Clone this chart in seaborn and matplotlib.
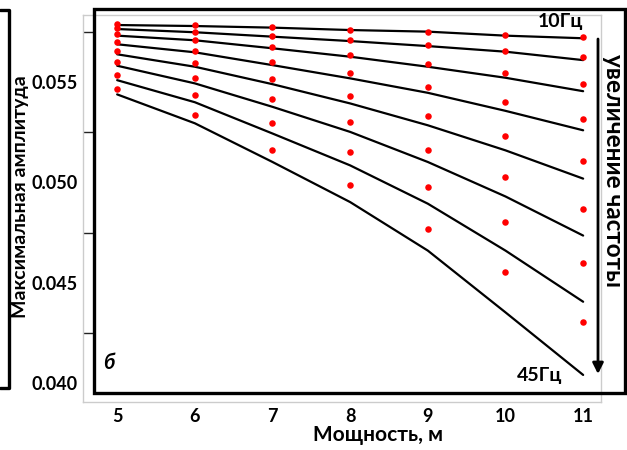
import matplotlib
matplotlib.use("Agg")
import matplotlib.pyplot as plt
import numpy as np
import pandas as pd
import seaborn as sns
from matplotlib.patches import Rectangle
from matplotlib.lines import Line2D
from matplotlib.ticker import FormatStrFormatter, MultipleLocator

# ---------------- data ----------------
thickness = [5, 6, 7, 8, 9, 10, 11]
freqs = ["10Гц", "15Гц", "20Гц", "25Гц", "30Гц", "35Гц", "40Гц", "45Гц"]

# model curves (black lines)
line_10 = [0.05785, 0.05780, 0.05772, 0.05760, 0.05752, 0.05732, 0.05719]
line_15 = [0.05765, 0.05749, 0.05727, 0.05705, 0.05680, 0.05652, 0.05610]
line_20 = [0.05732, 0.05709, 0.05669, 0.05627, 0.05577, 0.05522, 0.05455]
line_25 = [0.05689, 0.05649, 0.05585, 0.05519, 0.05447, 0.05357, 0.05260]
line_30 = [0.05639, 0.05577, 0.05490, 0.05394, 0.05285, 0.05160, 0.05019]
line_35 = [0.05582, 0.05494, 0.05377, 0.05252, 0.05102, 0.04930, 0.04735]
line_40 = [0.05510, 0.05400, 0.05244, 0.05085, 0.04894, 0.04660, 0.04405]
line_45 = [0.05439, 0.05295, 0.05102, 0.04902, 0.04660, 0.04352, 0.04040]

# measured points (red dots)
pts_10 = [0.05789, 0.05785, 0.05774, 0.05762, 0.05752, 0.05735, 0.05725]
pts_15 = [0.05769, 0.05752, 0.05730, 0.05710, 0.05685, 0.05657, 0.05627]
pts_20 = [0.05739, 0.05710, 0.05675, 0.05635, 0.05590, 0.05544, 0.05489]
pts_25 = [0.05702, 0.05657, 0.05602, 0.05544, 0.05474, 0.05399, 0.05314]
pts_30 = [0.05655, 0.05597, 0.05514, 0.05432, 0.05330, 0.05230, 0.05109]
pts_35 = [0.05602, 0.05519, 0.05414, 0.05300, 0.05164, 0.05027, 0.04869]
pts_40 = [0.05535, 0.05435, 0.05294, 0.05150, 0.04975, 0.04802, 0.04597]
pts_45 = [0.05465, 0.05335, 0.05160, 0.04987, 0.04769, 0.04552, 0.04302]

lines = [line_10, line_15, line_20, line_25, line_30, line_35, line_40, line_45]
points = [pts_10, pts_15, pts_20, pts_25, pts_30, pts_35, pts_40, pts_45]

df_lines = pd.DataFrame(
    [(f, x, y) for f, ys in zip(freqs, lines) for x, y in zip(thickness, ys)],
    columns=["freq", "thickness", "amp"])
df_pts = pd.DataFrame(
    [(f, x, y) for f, ys in zip(freqs, points) for x, y in zip(thickness, ys)],
    columns=["freq", "thickness", "amp"])

# ---------------- style ----------------
sns.set_theme(style="white")
plt.rcParams['font.family'] = ['Lato', 'DejaVu Sans']
plt.rcParams['font.weight'] = 'bold'
plt.rcParams['text.color'] = 'black'
plt.rcParams['axes.labelcolor'] = 'black'
plt.rcParams['xtick.color'] = 'black'
plt.rcParams['ytick.color'] = 'black'

W, H = 627, 450
fig = plt.figure(figsize=(W / 100, H / 100), dpi=100)
ax = fig.add_axes([83 / W, 1 - 402 / H, (601 - 83) / W, (402 - 15) / H])

sns.lineplot(data=df_lines, x="thickness", y="amp", units="freq", estimator=None,
             color="black", linewidth=1.6, ax=ax, legend=False, zorder=2)
sns.scatterplot(data=df_pts, x="thickness", y="amp", color="#ff0000", s=22,
                linewidth=0, ax=ax, legend=False, zorder=3)

ax.set_xlim(4.56, 11.23)
ax.set_ylim(0.03905, 0.05835)
ax.set_xticks(thickness)
ax.yaxis.set_major_locator(MultipleLocator(0.005))
ax.yaxis.set_minor_locator(MultipleLocator(0.0025))
ax.yaxis.set_major_formatter(FormatStrFormatter('%.3f'))
ax.tick_params(axis='both', which='both', direction='in', length=7, width=1,
               color='#222222', labelcolor='black', labelsize=13, pad=4)
ax.tick_params(axis='y', which='minor', left=True)
for lab in ax.get_xticklabels() + ax.get_yticklabels():
    lab.set_fontweight('bold')
for sp in ax.spines.values():
    sp.set_color('#cccccc')
    sp.set_linewidth(1)

ax.set_xlabel("Мощность, м", fontsize=15, fontweight='bold', color='black')
ax.set_ylabel("Максимальная амплитуда", fontsize=14, fontweight='bold',
              color='black')
ax.xaxis.set_label_coords((378 - 83) / 518, (402 - 435) / 387)
ax.yaxis.set_label_coords((21 - 83) / 518, (402 - 197) / 387)
ax.xaxis.label.set_va('center')
ax.yaxis.label.set_va('center')

def fx(px):
    return px / W

def fy(py):
    return 1 - py / H

# thick black frame around the panel
fig.add_artist(Rectangle((fx(94), fy(393)), fx(625) - fx(94), fy(9) - fy(393),
                         transform=fig.transFigure, fill=False,
                         edgecolor='black', linewidth=2.4, zorder=10))
# bracket of neighbouring panel on the left
fig.add_artist(Line2D([0, fx(9), fx(9), 0], [fy(10), fy(10), fy(388), fy(388)],
                      transform=fig.transFigure, color='black', linewidth=2.4,
                      zorder=10))

# annotations
fig.text(fx(561), fy(22), "10Гц", ha='center', va='center', fontsize=14,
         fontweight='bold', color='black')
fig.text(fx(540), fy(375), "45Гц", ha='center', va='center', fontsize=14,
         fontweight='bold', color='black')
fig.text(fx(109), fy(363), "б", ha='center', va='center', fontsize=15,
         fontweight='bold', style='italic', color='black')
fig.text(fx(613), fy(170), "увеличение частоты", ha='center', va='center',
         rotation=-90, fontsize=17.5, fontweight='bold', color='black')
ax.annotate("", xy=(598, H - 374), xytext=(598, H - 39),
            xycoords='figure pixels', textcoords='figure pixels',
            arrowprops=dict(arrowstyle='-|>', color='black', lw=2,
                            mutation_scale=16, shrinkA=0, shrinkB=0))

fig.savefig("out.png", dpi=100)
